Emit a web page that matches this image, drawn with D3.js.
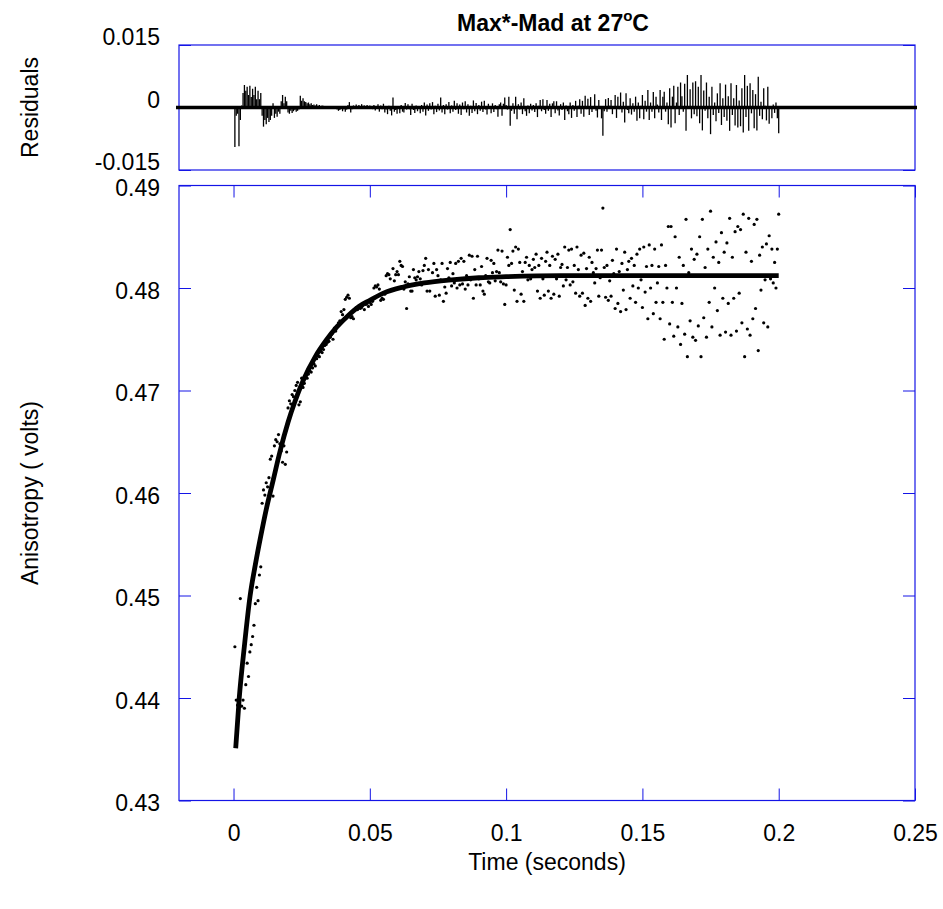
<!DOCTYPE html>
<html>
<head>
<meta charset="utf-8">
<script src="https://cdn.jsdelivr.net/npm/d3@7"></script>
<style>
  body { margin: 0; background: #fff; }
  #chart text { font-family: "Liberation Sans", Arial, Helvetica, sans-serif; fill: #000; }
</style>
</head>
<body>
<div id="chart"></div>
<script>
// axis ticks and labels
const xTicks = [0, 0.05, 0.1, 0.15, 0.2, 0.25];
const xTickLabels = ["0", "0.05", "0.1", "0.15", "0.2", "0.25"];
const yTicks = [0.43, 0.44, 0.45, 0.46, 0.47, 0.48, 0.49];
const yTickLabels = ["0.43", "0.44", "0.45", "0.46", "0.47", "0.48", "0.49"];
const residualTicks = [-0.015, 0, 0.015];
const residualTickLabels = ["-0.015", "0", "0.015"];

// sample times in milliseconds
const sampleTimesMs = [
  0.5, 1, 1.5, 2, 2.5, 3, 3.5, 4, 4.5, 5, 5.5, 6, 6.5, 7, 7.5, 8, 8.5, 9, 9.5, 10,
  10.5, 11, 11.5, 12, 12.5, 13, 13.5, 14, 14.5, 15, 15.5, 16, 16.5, 17, 17.5, 18, 18.5, 19, 19.5, 20,
  20.5, 21, 21.5, 22, 22.5, 23, 23.5, 24, 24.5, 25, 25.5, 26, 26.5, 27, 27.5, 28, 28.5, 29, 29.5, 30,
  30.5, 31, 31.5, 32, 32.5, 33, 33.5, 34, 34.5, 35, 35.5, 36, 36.5, 37, 37.5, 38, 38.5, 39, 39.5, 40,
  40.5, 41, 41.5, 42, 42.5, 43, 43.5, 44, 44.5, 45, 45.5, 46, 46.5, 47, 47.5, 48, 48.5, 49, 49.5, 50,
  50.5, 51, 51.5, 52, 52.5, 53, 53.5, 54, 54.5, 55, 55.5, 56, 56.5, 57, 57.5, 58, 58.5, 59, 59.5, 60,
  60.5, 61, 61.5, 62, 62.5, 63, 63.5, 64, 64.5, 65, 65.5, 66, 66.5, 67, 67.5, 68, 68.5, 69, 69.5, 70,
  70.5, 71, 71.5, 72, 72.5, 73, 73.5, 74, 74.5, 75, 75.5, 76, 76.5, 77, 77.5, 78, 78.5, 79, 79.5, 80,
  80.5, 81, 81.5, 82, 82.5, 83, 83.5, 84, 84.5, 85, 85.5, 86, 86.5, 87, 87.5, 88, 88.5, 89, 89.5, 90,
  90.5, 91, 91.5, 92, 92.5, 93, 93.5, 94, 94.5, 95, 95.5, 96, 96.5, 97, 97.5, 98, 98.5, 99, 99.5, 100,
  100.5, 101, 101.5, 102, 102.5, 103, 103.5, 104, 104.5, 105, 105.5, 106, 106.5, 107, 107.5, 108, 108.5, 109, 109.5, 110,
  110.5, 111, 111.5, 112, 112.5, 113, 113.5, 114, 114.5, 115, 115.5, 116, 116.5, 117, 117.5, 118, 118.5, 119, 119.5, 120,
  120.5, 121, 121.5, 122, 122.5, 123, 123.5, 124, 124.5, 125, 125.5, 126, 126.5, 127, 127.5, 128, 128.5, 129, 129.5, 130,
  130.5, 131, 131.5, 132, 132.5, 133, 133.5, 134, 134.5, 135, 135.5, 136, 136.5, 137, 137.5, 138, 138.5, 139, 139.5, 140,
  140.5, 141, 141.5, 142, 142.5, 143, 143.5, 144, 144.5, 145, 145.5, 146, 146.5, 147, 147.5, 148, 148.5, 149, 149.5, 150,
  150.5, 151, 151.5, 152, 152.5, 153, 153.5, 154, 154.5, 155, 155.5, 156, 156.5, 157, 157.5, 158, 158.5, 159, 159.5, 160,
  160.5, 161, 161.5, 162, 162.5, 163, 163.5, 164, 164.5, 165, 165.5, 166, 166.5, 167, 167.5, 168, 168.5, 169, 169.5, 170,
  170.5, 171, 171.5, 172, 172.5, 173, 173.5, 174, 174.5, 175, 175.5, 176, 176.5, 177, 177.5, 178, 178.5, 179, 179.5, 180,
  180.5, 181, 181.5, 182, 182.5, 183, 183.5, 184, 184.5, 185, 185.5, 186, 186.5, 187, 187.5, 188, 188.5, 189, 189.5, 190,
  190.5, 191, 191.5, 192, 192.5, 193, 193.5, 194, 194.5, 195, 195.5, 196, 196.5, 197, 197.5, 198, 198.5, 199, 199.5, 200
];

// measured anisotropy (volts), one per sample time
const anisotropy = [
  0.4450, 0.4398, 0.4393, 0.4395, 0.4497, 0.4392, 0.4398, 0.4390, 0.4413, 0.4434, 0.4421, 0.4445, 0.4452, 0.4460, 0.4471, 0.4492, 0.4508, 0.4495, 0.4520, 0.4528,
  0.4590, 0.4603, 0.4598, 0.4610, 0.4606, 0.4615, 0.4633, 0.4636, 0.4597, 0.4646, 0.4652, 0.4650, 0.4657, 0.4648, 0.4641, 0.4630, 0.4646, 0.4628, 0.4640, 0.4683,
  0.4690, 0.4687, 0.4696, 0.4694, 0.4700, 0.4705, 0.4708, 0.4686, 0.4689, 0.4712, 0.4703, 0.4707, 0.4713, 0.4712, 0.4716, 0.4719, 0.4718, 0.4722, 0.4726, 0.4724,
  0.4731, 0.4734, 0.4733, 0.4738, 0.4737, 0.4740, 0.4744, 0.4745, 0.4747, 0.4748, 0.4752, 0.4755, 0.4750, 0.4761, 0.4758, 0.4763, 0.4766, 0.4768, 0.4777, 0.4774,
  0.4779, 0.4789, 0.4791, 0.4793, 0.4790, 0.4771, 0.4772, 0.4770, 0.4778, 0.4781, 0.4779, 0.4782, 0.4780, 0.4781, 0.4783, 0.4779, 0.4784, 0.4785, 0.4782, 0.4786,
  0.4784, 0.4787, 0.4800, 0.4802, 0.4801, 0.4803, 0.4799, 0.4788, 0.4790, 0.4789, 0.4794, 0.4812, 0.4814, 0.4813, 0.4809, 0.4798, 0.4819, 0.4807, 0.4813, 0.4816,
  0.4813, 0.4826, 0.4822, 0.4821, 0.4799, 0.4806, 0.4780, 0.4804, 0.4811, 0.4797, 0.4797, 0.4818, 0.4810, 0.4808, 0.4811, 0.4816, 0.4809, 0.4803, 0.4817, 0.4822,
  0.4829, 0.4797, 0.4818, 0.4797, 0.4806, 0.4815, 0.4824, 0.4792, 0.4818, 0.4812, 0.4793, 0.4808, 0.4824, 0.4787, 0.4801, 0.4795, 0.4819, 0.4810, 0.4825, 0.4802,
  0.4814, 0.4805, 0.4824, 0.4800, 0.4826, 0.4803, 0.4829, 0.4804, 0.4826, 0.4799, 0.4812, 0.4803, 0.4832, 0.4808, 0.4831, 0.4790, 0.4818, 0.4803, 0.4831, 0.4809,
  0.4803, 0.4821, 0.4797, 0.4794, 0.4812, 0.4829, 0.4806, 0.4805, 0.4827, 0.4815, 0.4824, 0.4807, 0.4816, 0.4837, 0.4815, 0.4806, 0.4836, 0.4804, 0.4784, 0.4803,
  0.4830, 0.4822, 0.4857, 0.4824, 0.4836, 0.4798, 0.4840, 0.4787, 0.4838, 0.4825, 0.4794, 0.4816, 0.4787, 0.4825, 0.4830, 0.4808, 0.4822, 0.4809, 0.4818, 0.4828,
  0.4820, 0.4833, 0.4797, 0.4822, 0.4790, 0.4829, 0.4809, 0.4793, 0.4826, 0.4835, 0.4797, 0.4822, 0.4790, 0.4831, 0.4794, 0.4828, 0.4809, 0.4833, 0.4792, 0.4820,
  0.4823, 0.4802, 0.4840, 0.4808, 0.4820, 0.4837, 0.4803, 0.4838, 0.4806, 0.4822, 0.4795, 0.4840, 0.4818, 0.4792, 0.4832, 0.4795, 0.4834, 0.4783, 0.4819, 0.4790,
  0.4830, 0.4787, 0.4825, 0.4815, 0.4805, 0.4819, 0.4837, 0.4792, 0.4810, 0.4837, 0.4878, 0.4820, 0.4791, 0.4822, 0.4788, 0.4807, 0.4792, 0.4827, 0.4814, 0.4780,
  0.4838, 0.4785, 0.4816, 0.4777, 0.4824, 0.4798, 0.4835, 0.4779, 0.4818, 0.4826, 0.4790, 0.4829, 0.4802, 0.4822, 0.4786, 0.4833, 0.4800, 0.4838, 0.4808, 0.4781,
  0.4840, 0.4796, 0.4821, 0.4770, 0.4842, 0.4800, 0.4822, 0.4775, 0.4838, 0.4786, 0.4805, 0.4821, 0.4770, 0.4842, 0.4786, 0.4750, 0.4822, 0.4800, 0.4860, 0.4765,
  0.4860, 0.4786, 0.4753, 0.4850, 0.4800, 0.4762, 0.4830, 0.4745, 0.4785, 0.4822, 0.4755, 0.4867, 0.4733, 0.4815, 0.4768, 0.4838, 0.4752, 0.4828, 0.4749, 0.4833,
  0.4763, 0.4850, 0.4733, 0.4867, 0.4771, 0.4820, 0.4752, 0.4838, 0.4786, 0.4875, 0.4762, 0.4830, 0.4800, 0.4845, 0.4778, 0.4825, 0.4754, 0.4854, 0.4790, 0.4835,
  0.4757, 0.4844, 0.4785, 0.4868, 0.4754, 0.4830, 0.4790, 0.4855, 0.4758, 0.4860, 0.4795, 0.4857, 0.4766, 0.4872, 0.4733, 0.4835, 0.4760, 0.4868, 0.4754, 0.4826,
  0.4770, 0.4862, 0.4780, 0.4867, 0.4739, 0.4832, 0.4798, 0.4840, 0.4766, 0.4808, 0.4843, 0.4762, 0.4851, 0.4809, 0.4838, 0.4805, 0.4825, 0.4800, 0.4838, 0.4872
];

// residuals, one per sample time
const residuals = [
  -0.0095, -0.0020, -0.0015, -0.0093, -0.0030, 0.0005, 0.0035, 0.0054, 0.0040, 0.0050, 0.0030, 0.0052, 0.0025, 0.0045, 0.0030, 0.0050, 0.0020, 0.0040, 0.0020, 0.0035,
  -0.0020, -0.0046, -0.0030, -0.0040, -0.0025, -0.0035, -0.0030, -0.0020, 0.0010, -0.0025, -0.0015, -0.0022, -0.0010, -0.0015, 0.0015, 0.0030, 0.0010, 0.0026, 0.0015, -0.0012,
  -0.0015, -0.0008, -0.0013, -0.0009, -0.0006, -0.0010, -0.0008, -0.0005, 0.0028, 0.0016, 0.0022, 0.0015, 0.0013, 0.0010, 0.0012, 0.0008, 0.0010, 0.0006, 0.0007, 0.0005,
  0.0008, 0.0004, 0.0006, 0.0003, 0.0005, 0.0004, 0.0002, 0.0003, 0.0001, 0.0002, 0.0000, -0.0002, 0.0001, -0.0003, 0.0000, -0.0005, -0.0008, -0.0006, -0.0003, -0.0009,
  -0.0004, -0.0010, -0.0005, 0.0006, 0.0013, -0.0012, -0.0004, 0.0005, -0.0003, 0.0007, 0.0003, 0.0006, -0.0002, 0.0008, 0.0004, 0.0005, -0.0003, 0.0006, 0.0002, 0.0005,
  0.0003, -0.0004, 0.0006, -0.0007, 0.0003, 0.0008, -0.0010, 0.0005, -0.0004, 0.0009, -0.0012, -0.0005, -0.0016, 0.0004, -0.0008, -0.0019, 0.0024, -0.0010, -0.0006, -0.0015,
  -0.0003, -0.0014, 0.0006, -0.0010, -0.0012, 0.0011, -0.0005, 0.0008, -0.0004, -0.0018, 0.0009, -0.0006, -0.0013, 0.0005, -0.0009, -0.0002, -0.0014, 0.0006, -0.0010, 0.0012,
  -0.0019, 0.0007, -0.0008, 0.0010, -0.0005, 0.0013, -0.0016, 0.0004, -0.0011, 0.0009, -0.0007, 0.0024, -0.0012, 0.0006, -0.0016, 0.0008, -0.0005, 0.0013, -0.0014, 0.0005,
  -0.0010, 0.0016, -0.0006, 0.0010, -0.0015, 0.0007, -0.0018, 0.0012, -0.0004, 0.0015, -0.0012, 0.0008, -0.0020, 0.0004, -0.0013, 0.0017, -0.0009, 0.0011, -0.0016, 0.0006,
  -0.0008, 0.0014, -0.0011, 0.0016, -0.0005, -0.0017, 0.0009, 0.0003, -0.0014, 0.0010, -0.0011, 0.0006, -0.0004, -0.0022, 0.0008, 0.0012, -0.0020, 0.0009, 0.0024, 0.0006,
  -0.0005, 0.0026, -0.0044, -0.0008, 0.0010, -0.0015, 0.0026, -0.0028, 0.0008, -0.0005, 0.0012, -0.0016, 0.0022, -0.0009, -0.0020, 0.0005, -0.0014, 0.0009, -0.0007, 0.0006,
  -0.0011, 0.0010, -0.0023, 0.0004, 0.0018, -0.0009, 0.0020, -0.0006, -0.0015, 0.0018, -0.0008, 0.0009, -0.0023, 0.0010, 0.0015, -0.0014, 0.0015, -0.0007, -0.0019, 0.0008,
  -0.0006, 0.0012, -0.0030, 0.0005, -0.0009, -0.0016, 0.0012, -0.0025, 0.0006, -0.0008, 0.0016, -0.0023, 0.0004, 0.0020, -0.0015, 0.0016, -0.0022, 0.0028, -0.0004, 0.0021,
  -0.0018, 0.0025, -0.0011, 0.0003, 0.0032, -0.0008, -0.0024, 0.0018, 0.0002, -0.0026, -0.0068, -0.0009, 0.0020, -0.0010, 0.0023, 0.0004, 0.0018, -0.0016, -0.0002, 0.0030,
  -0.0025, 0.0026, -0.0004, 0.0036, -0.0012, 0.0014, -0.0036, 0.0034, -0.0006, -0.0014, 0.0022, -0.0017, 0.0010, -0.0010, 0.0026, -0.0032, 0.0012, -0.0026, 0.0004, 0.0030,
  -0.0028, 0.0016, -0.0010, 0.0042, -0.0030, 0.0012, -0.0010, 0.0037, -0.0026, 0.0026, 0.0007, -0.0012, 0.0042, -0.0030, 0.0026, 0.0038, -0.0010, 0.0012, -0.0040, 0.0046,
  -0.0048, 0.0026, 0.0052, -0.0038, 0.0012, 0.0050, -0.0018, 0.0060, 0.0027, -0.0010, 0.0057, -0.0056, 0.0078, -0.0003, 0.0044, -0.0026, 0.0060, -0.0016, 0.0063, -0.0021,
  0.0050, -0.0038, 0.0078, -0.0055, 0.0041, -0.0008, 0.0060, -0.0026, 0.0026, -0.0064, 0.0050, -0.0018, 0.0012, -0.0033, 0.0034, -0.0013, 0.0058, -0.0042, 0.0022, -0.0023,
  0.0055, -0.0032, 0.0027, -0.0056, 0.0058, -0.0018, 0.0022, -0.0043, 0.0054, -0.0048, 0.0017, -0.0045, 0.0046, -0.0060, 0.0078, -0.0023, 0.0052, -0.0056, 0.0058, -0.0014,
  0.0042, -0.0050, 0.0032, -0.0055, 0.0074, -0.0020, 0.0014, -0.0028, 0.0046, 0.0004, -0.0031, 0.0050, -0.0039, 0.0003, -0.0026, 0.0007, -0.0013, 0.0012, -0.0026, -0.0062
];

// fitted curve, read at a few times (ms)
const fitTimesMs = [0.8, 2.1, 4, 6.1, 8, 10, 12, 14.6, 17, 20, 22.5, 25.6, 30, 34, 37.9, 42, 46, 50, 55, 62.3, 70, 80, 90, 100, 120, 150, 200];
const fitValues = [0.4351, 0.4400, 0.4451, 0.4500, 0.4530, 0.4558, 0.4584, 0.4613, 0.4640, 0.4669, 0.4689, 0.4710, 0.4733, 0.4749, 0.4762, 0.4773, 0.4782, 0.4788, 0.4795, 0.4801, 0.4805, 0.4808, 0.4810, 0.4811, 0.4812, 0.4812, 0.4812];

const frameColor = "#1414e6";
const fontFamily = '"Liberation Sans", Arial, Helvetica, sans-serif';

class AnisotropyChart {
  constructor(mountPoint) {
    this.svgWidth = 943;
    this.svgHeight = 909;
    this.plot = { left: 179, right: 915 };
    this.residualBox = { top: 45, bottom: 170 };
    this.mainBox = { top: 185.5, bottom: 800.5 };
    this.tickLength = 12;
    this.fontSize = 23;

    this.svg = d3
      .select(`#${mountPoint}`)
      .append("svg")
      .attr("width", this.svgWidth)
      .attr("height", this.svgHeight);

    this.x = d3.scaleLinear().domain([-0.02, 0.25]).range([this.plot.left, this.plot.right]);
    this.yMain = d3.scaleLinear().domain([0.43, 0.49]).range([this.mainBox.bottom, this.mainBox.top]);
    this.yRes = d3.scaleLinear().domain([-0.015, 0.015]).range([this.residualBox.bottom, this.residualBox.top]);

    this.points = sampleTimesMs.map((t, i) => ({ t: t / 1000, v: anisotropy[i], r: residuals[i] }));
    this.fit = fitTimesMs.map((t, i) => ({ t: t / 1000, v: fitValues[i] }));

    this.render();
  }

  styleAxis(g, showText) {
    g.attr("font-size", this.fontSize).attr("font-family", fontFamily);
    g.select(".domain").remove();
    g.selectAll(".tick line").attr("stroke", frameColor).attr("stroke-width", 1);
    if (!showText) g.selectAll(".tick text").remove();
    else g.selectAll(".tick text").attr("fill", "#000");
  }

  drawFrame(box) {
    this.svg
      .append("rect")
      .attr("x", this.plot.left)
      .attr("y", box.top)
      .attr("width", this.plot.right - this.plot.left)
      .attr("height", box.bottom - box.top)
      .attr("fill", "none")
      .attr("stroke", frameColor)
      .attr("stroke-width", 1.2);
  }

  render() {
    const svg = this.svg;
    const tl = -this.tickLength;

    // residual panel
    this.drawFrame(this.residualBox);
    svg.append("g")
      .attr("transform", `translate(${this.plot.left},0)`)
      .call(d3.axisLeft(this.yRes).tickValues(residualTicks).tickSize(tl).tickPadding(19)
        .tickFormat((d, i) => residualTickLabels[i]))
      .call((g) => this.styleAxis(g, true))
      .call((g) => g.selectAll(".tick text").attr("dy", "-0.02em"));
    svg.append("g")
      .attr("transform", `translate(${this.plot.right},0)`)
      .call(d3.axisRight(this.yRes).tickValues(residualTicks).tickSize(tl))
      .call((g) => this.styleAxis(g, false));

    svg.append("g")
      .selectAll("line")
      .data(this.points)
      .join("line")
      .attr("x1", (d) => this.x(d.t))
      .attr("x2", (d) => this.x(d.t))
      .attr("y1", this.yRes(0))
      .attr("y2", (d) => this.yRes(d.r))
      .attr("stroke", "#000")
      .attr("stroke-width", 1.3);

    svg.append("line")
      .attr("x1", this.plot.left - 3)
      .attr("x2", this.plot.right + 2)
      .attr("y1", this.yRes(0))
      .attr("y2", this.yRes(0))
      .attr("stroke", "#000")
      .attr("stroke-width", 3.5);

    // main panel
    this.drawFrame(this.mainBox);
    svg.append("g")
      .attr("transform", `translate(0,${this.mainBox.bottom})`)
      .call(d3.axisBottom(this.x).tickValues(xTicks).tickSize(tl).tickPadding(24)
        .tickFormat((d, i) => xTickLabels[i]))
      .call((g) => this.styleAxis(g, true));
    svg.append("g")
      .attr("transform", `translate(0,${this.mainBox.top})`)
      .call(d3.axisTop(this.x).tickValues(xTicks).tickSize(tl))
      .call((g) => this.styleAxis(g, false));
    svg.append("g")
      .attr("transform", `translate(${this.plot.left},0)`)
      .call(d3.axisLeft(this.yMain).tickValues(yTicks).tickSize(tl).tickPadding(19)
        .tickFormat((d, i) => yTickLabels[i]))
      .call((g) => this.styleAxis(g, true))
      .call((g) => g.selectAll(".tick text").attr("dy", "0.45em"));
    svg.append("g")
      .attr("transform", `translate(${this.plot.right},0)`)
      .call(d3.axisRight(this.yMain).tickValues(yTicks).tickSize(tl))
      .call((g) => this.styleAxis(g, false));

    svg.append("g")
      .selectAll("circle")
      .data(this.points)
      .join("circle")
      .attr("cx", (d) => this.x(d.t))
      .attr("cy", (d) => this.yMain(d.v))
      .attr("r", 1.6)
      .attr("fill", "#000");

    const fitLine = d3.line()
      .x((d) => this.x(d.t))
      .y((d) => this.yMain(d.v))
      .curve(d3.curveMonotoneX);

    svg.append("path")
      .datum(this.fit)
      .attr("d", fitLine)
      .attr("fill", "none")
      .attr("stroke", "#000")
      .attr("stroke-width", 4.8);

    // titles
    const title = svg.append("text")
      .attr("x", 553)
      .attr("y", 31)
      .attr("text-anchor", "middle")
      .attr("font-size", 23)
      .attr("font-weight", "bold");
    title.append("tspan").text("Max*-Mad at 27");
    title.append("tspan").attr("font-size", 15).attr("dy", -10).text("o");
    title.append("tspan").attr("dy", 10).text("C");

    svg.append("text")
      .attr("x", 547)
      .attr("y", 870)
      .attr("text-anchor", "middle")
      .attr("font-size", this.fontSize)
      .text("Time (seconds)");

    svg.append("text")
      .attr("transform", `translate(38,${(this.residualBox.top + this.residualBox.bottom) / 2}) rotate(-90)`)
      .attr("text-anchor", "middle")
      .attr("font-size", this.fontSize)
      .text("Residuals");

    svg.append("text")
      .attr("transform", `translate(38,${(this.mainBox.top + this.mainBox.bottom) / 2}) rotate(-90)`)
      .attr("text-anchor", "middle")
      .attr("font-size", this.fontSize)
      .text("Anisotropy ( volts)");
  }
}

new AnisotropyChart("chart");
</script>
</body>
</html>
